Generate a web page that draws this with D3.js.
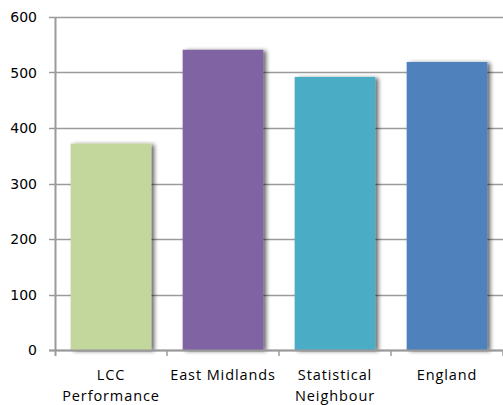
<!DOCTYPE html>
<html><head><meta charset="utf-8">
<script src="https://cdn.jsdelivr.net/npm/d3@7"></script>
<style>body{margin:0;background:#fff}svg{display:block}</style>
</head><body>
<script>
const categories = [["LCC","Performance"],["East Midlands"],["Statistical","Neighbour"],["England"]];
const values = [372, 541, 492, 519];
const colors = ["#c3d69b","#8064a2","#4bacc6","#4f81bd"];
const yTicks = [0,100,200,300,400,500,600];

const W=503,H=405;
const m={left:55,right:0,top:17,bottom:55};
const svg=d3.select("body").append("svg").attr("width",W).attr("height",H);
const defs=svg.append("defs");
const f=defs.append("filter").attr("id","sh").attr("x","-10%").attr("y","-10%").attr("width","130%").attr("height","120%");
f.append("feGaussianBlur").attr("in","SourceAlpha").attr("stdDeviation",2).attr("result","b");
f.append("feOffset").attr("in","b").attr("dx",3).attr("dy",1).attr("result","o");
f.append("feComponentTransfer").attr("in","o").attr("result","o2").append("feFuncA").attr("type","linear").attr("slope",0.6);
const mg=f.append("feMerge");mg.append("feMergeNode").attr("in","o2");mg.append("feMergeNode").attr("in","SourceGraphic");

const x=d3.scaleBand().domain(d3.range(categories.length)).range([m.left,W-m.right]).paddingInner(0.28).paddingOuter(0.14);
const xb=d3.scaleBand().domain(d3.range(categories.length)).range([m.left,W-m.right]);
const y=d3.scaleLinear().domain([0,600]).range([H-m.bottom,m.top]);

// gridlines
svg.append("g").selectAll("line").data(yTicks).join("line")
  .attr("x1",m.left-6).attr("x2",W).attr("y1",d=>Math.round(y(d))+0.5).attr("y2",d=>Math.round(y(d))+0.5)
  .attr("stroke","#9a9a9a").attr("stroke-width",1.5);
// y labels
svg.append("g").selectAll("text").data(yTicks).join("text")
  .attr("x",37).attr("y",d=>y(d)).attr("dy","0.36em").attr("text-anchor","end")
  .attr("font-family","DejaVu Sans").attr("font-size",14).attr("fill","#000").text(d=>d);
// bars
svg.append("g").selectAll("rect").data(values).join("rect")
  .attr("x",(d,i)=>x(i)).attr("width",x.bandwidth())
  .attr("y",d=>y(d)).attr("height",d=>y(0)-y(d))
  .attr("fill",(d,i)=>colors[i]).attr("filter","url(#sh)");
// axis
svg.append("line").attr("x1",m.left+0.5).attr("x2",m.left+0.5).attr("y1",m.top).attr("y2",y(0)+6).attr("stroke","#9a9a9a").attr("stroke-width",2);
svg.append("line").attr("x1",m.left-6).attr("x2",W).attr("y1",Math.round(y(0))+0.5).attr("y2",Math.round(y(0))+0.5).attr("stroke","#9a9a9a").attr("stroke-width",2);
svg.append("g").selectAll("line").data(d3.range(1,categories.length+1)).join("line")
  .attr("x1",i=>xb(0)+i*xb.bandwidth()).attr("x2",i=>xb(0)+i*xb.bandwidth())
  .attr("y1",y(0)).attr("y2",y(0)+6).attr("stroke","#9a9a9a").attr("stroke-width",1.5);
// category labels
const lg=svg.append("g").selectAll("text").data(categories).join("text")
  .attr("x",(d,i)=>xb(i)+xb.bandwidth()/2).attr("y",380).attr("text-anchor","middle")
  .attr("font-family","Open Sans").attr("font-size",14.5).attr("letter-spacing","0.9px").attr("fill","#000");
lg.selectAll("tspan").data(d=>d).join("tspan").attr("x",function(){return this.parentNode.getAttribute("x");})
  .attr("dy",(d,i)=>i?21:0).text(d=>d);
</script>
</body></html>
